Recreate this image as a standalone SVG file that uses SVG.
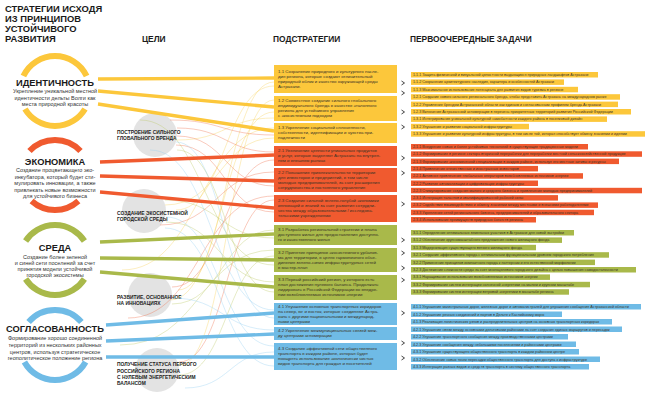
<svg xmlns="http://www.w3.org/2000/svg" width="650" height="398" viewBox="0 0 650 398">
<style>
text{font-family:"Liberation Sans",Arial,sans-serif}
.ttl{font-weight:bold;font-size:9.4px;fill:#1a1a1a}
.h{font-weight:bold;font-size:8.4px;fill:#1a1a1a}
.ring{fill:none;stroke-width:6}
.rw{font-weight:bold;font-size:9.3px;text-anchor:middle;fill:#1a1a1a}
.rd{font-size:5.5px;text-anchor:middle;fill:#333}
.gc{fill:#e3e3e3}
.gl{font-weight:bold;font-size:4.9px;fill:#222}
.st{font-size:4.4px;fill:#3a3325}
.tt{font-size:3.7px;fill:#3a3325}
.thick{fill:none;stroke-width:3.4}
.thin{fill:none;stroke-width:0.6;opacity:0.6}
.chev{fill:none;stroke:#333;stroke-width:0.9}
.Y{fill:#fcc73b}.R{fill:#f05a2f}.G{fill:#a9b94a}.B{fill:#6fbbe6}
.sY{stroke:#fcc73b}.sR{stroke:#f05a2f}.sG{stroke:#a9b94a}.sB{stroke:#6fbbe6}
.tY{stroke:#f7cf52}.tR{stroke:#ef6a45}.tG{stroke:#b9c65e}.tB{stroke:#8fcdf0}
</style>
<rect width="650" height="398" fill="#fff"/>
<g id="title">
<text class="ttl" x="5" y="12">СТРАТЕГИИ ИСХОДЯ</text>
<text class="ttl" x="5" y="22">ИЗ ПРИНЦИПОВ</text>
<text class="ttl" x="5" y="32">УСТОЙЧИВОГО</text>
<text class="ttl" x="5" y="42">РАЗВИТИЯ</text>
</g>
<g id="headers">
<text class="h" x="142" y="42">ЦЕЛИ</text>
<text class="h" x="273" y="42">ПОДСТРАТЕГИИ</text>
<text class="h" x="410" y="42">ПЕРВООЧЕРЕДНЫЕ ЗАДАЧИ</text>
</g>
<g id="ring-identity">
<path class="ring sY" d="M23.4 76 A35 35 0 0 1 86.6 76"/>
<path class="ring sY" d="M25 109 A35 35 0 0 0 85 109"/>
<text class="rw" x="55" y="86">ИДЕНТИЧНОСТЬ</text>
<text class="rd" x="55" y="93">Укрепление уникальной местной</text>
<text class="rd" x="55" y="100">идентичности дельты Волги как</text>
<text class="rd" x="55" y="106">места природной красоты</text>
</g>
<g id="ring-economy">
<path class="ring sR" d="M29.5 151 A35 35 0 0 1 80.5 151"/>
<path class="ring sR" d="M31.6 201 A35 35 0 0 0 78.4 201"/>
<text class="rw" x="55" y="165">ЭКОНОМИКА</text>
<text class="rd" x="55" y="172">Создание процветающего эко-</text>
<text class="rd" x="55" y="178.5">инкубатора, который будет сти-</text>
<text class="rd" x="55" y="185">мулировать инновации, а также</text>
<text class="rd" x="55" y="191.5">привлекать новые возможности</text>
<text class="rd" x="55" y="198">для устойчивого бизнеса</text>
</g>
<g id="ring-environment">
<path class="ring sG" d="M25.6 241 A35 35 0 0 1 84.4 241"/>
<path class="ring sG" d="M25.6 279 A35 35 0 0 0 84.4 279"/>
<text class="rw" x="55" y="251">СРЕДА</text>
<text class="rd" x="55" y="259">Создание более зеленой</text>
<text class="rd" x="55" y="265">и синей сети поселений за счет</text>
<text class="rd" x="55" y="271">принятия модели устойчивой</text>
<text class="rd" x="55" y="277">городской экосистемы</text>
</g>
<g id="ring-coherence">
<path class="ring sB" d="M28.6 322 A35 35 0 0 1 81.4 322"/>
<path class="ring sB" d="M24.4 362 A35 35 0 0 0 85.6 362"/>
<text class="rw" x="55" y="332">СОГЛАСОВАННОСТЬ</text>
<text class="rd" x="55" y="340">Формирование хорошо соединенной</text>
<text class="rd" x="55" y="347">территорий из нескольких районных</text>
<text class="rd" x="55" y="354">центров, используя стратегическое</text>
<text class="rd" x="55" y="360">геополитическое положение региона</text>
</g>
<g id="goal-brand">
<circle class="gc" cx="155" cy="135" r="22"/>
<text class="gl" x="117" y="134">ПОСТРОЕНИЕ СИЛЬНОГО</text>
<text class="gl" x="117" y="140">ГЛОБАЛЬНОГО БРЕНДА</text>
</g>
<g id="goal-ecosystem">
<circle class="gc" cx="144" cy="211" r="22"/>
<text class="gl" x="117" y="215">СОЗДАНИЕ ЭКОСИСТЕМНОЙ</text>
<text class="gl" x="117" y="221">ГОРОДСКОЙ СРЕДЫ</text>
</g>
<g id="goal-innovation">
<circle class="gc" cx="150" cy="295" r="22"/>
<text class="gl" x="117" y="299">РАЗВИТИЕ, ОСНОВАННОЕ</text>
<text class="gl" x="117" y="305">НА ИННОВАЦИЯХ</text>
</g>
<g id="goal-zero">
<circle class="gc" cx="157" cy="370" r="22"/>
<text class="gl" x="117" y="366">ПОЛУЧЕНИЕ СТАТУСА ПЕРВОГО</text>
<text class="gl" x="117" y="372.5">РОССИЙСКОГО РЕГИОНА</text>
<text class="gl" x="117" y="379">С НУЛЕВЫМ ЭНЕРГЕТИЧЕСКИМ</text>
<text class="gl" x="117" y="385">БАЛАНСОМ</text>
</g>
<g id="connectors">
<path class="thin tY" d="M178 290 C226 290 226 82 274 82"/>
<path class="thin tY" d="M176 210 C225 210 225 86 274 86"/>
<path class="thin tY" d="M180 365 C227 365 227 100 274 100"/>
<path class="thin tY" d="M170 300 C222 300 222 112 274 112"/>
<path class="thin tY" d="M165 205 C220 205 220 138 274 138"/>
<path class="thin tY" d="M177 140 C226 140 226 118 274 118"/>
<path class="thin tY" d="M122 270 C200 270 200 128 274 128"/>
<path class="thin tR" d="M177 128 C226 128 226 152 274 152"/>
<path class="thin tR" d="M177 136 C226 136 226 186 274 186"/>
<path class="thin tR" d="M176 145 C225 145 225 212 274 212"/>
<path class="thin tR" d="M172 287 C223 287 223 160 274 160"/>
<path class="thin tR" d="M179 362 C227 362 227 200 274 200"/>
<path class="thin tR" d="M160 225 C217 225 217 172 274 172"/>
<path class="thin tR" d="M128 318 C200 318 200 196 274 196"/>
<path class="thin tR" d="M170 120 C222 120 222 135 274 135"/>
<path class="thin tG" d="M165 200 C220 200 220 238 274 238"/>
<path class="thin tG" d="M177 150 C226 150 226 292 274 292"/>
<path class="thin tG" d="M179 375 C227 375 227 256 274 256"/>
<path class="thin tG" d="M172 304 C223 304 223 230 274 230"/>
<path class="thin tG" d="M166 222 C220 222 220 282 274 282"/>
<path class="thin tG" d="M140 120 C205 120 205 265 274 265"/>
<path class="thin tG" d="M120 345 C200 345 200 250 274 250"/>
<path class="thin tB" d="M176 142 C225 142 225 318 274 318"/>
<path class="thin tB" d="M166 217 C220 217 220 346 274 346"/>
<path class="thin tB" d="M172 298 C223 298 223 330 274 330"/>
<path class="thin tB" d="M165 228 C220 228 220 366 274 366"/>
<path class="thin tB" d="M185 388 C230 388 230 352 274 352"/>
<path class="thin tB" d="M150 150 C212 150 212 310 274 310"/>
<path class="thick sY" d="M98 79 L274 78"/>
<path class="thick sY" d="M98 91 L274 107"/>
<path class="thick sY" d="M98 104 L274 131"/>
<path class="thick sR" d="M100 162 L274 155"/>
<path class="thick sR" d="M100 176 L274 181"/>
<path class="thick sR" d="M100 192 L274 208"/>
<path class="thick sG" d="M100 242 L274 234"/>
<path class="thick sG" d="M100 258 L274 260"/>
<path class="thick sG" d="M100 272 L274 287"/>
<path class="thick sB" d="M106 325 L274 313"/>
<path class="thick sB" d="M106 341 L274 334"/>
<path class="thick sB" d="M106 357 L274 357"/>
<path class="chev" d="M401.5 81 L404.5 83 L401.5 85 M401.5 91 L404.5 93 L401.5 95 M401.5 110 L404.5 112 L401.5 114 M401.5 125 L404.5 127 L401.5 129 M401.5 156 L404.5 158 L401.5 160 M401.5 171 L404.5 173 L401.5 175 M401.5 202 L404.5 204 L401.5 206 M401.5 238 L404.5 240 L401.5 242 M401.5 251 L404.5 253 L401.5 255 M401.5 266 L404.5 268 L401.5 270 M401.5 278 L404.5 280 L401.5 282 M401.5 311 L404.5 313 L401.5 315 M401.5 341 L404.5 343 L401.5 345 M401.5 356 L404.5 358 L401.5 360"/>
</g>
<g id="sub-1-1"><rect class="Y" x="274" y="65" width="123" height="28"/><text class="st" x="278" y="72.8">1.1 Сохранение природного и культурного насле-<tspan x="278" dy="5">дия региона, которые создают отличительный</tspan><tspan x="278" dy="5">природный облик и качество окружающей среды</tspan><tspan x="278" dy="5">Астрахани.</tspan></text></g>
<g id="sub-1-2"><rect class="Y" x="274" y="96" width="123" height="25"/><text class="st" x="278" y="102.3">1.2 Совместное создание сильного глобального<tspan x="278" dy="5">индивидуального бренда в качестве эталонного</tspan><tspan x="278" dy="5">региона для устойчивого управления</tspan><tspan x="278" dy="5">с экосистемным подходом</tspan></text></g>
<g id="sub-1-3"><rect class="Y" x="274" y="123" width="123" height="20"/><text class="st" x="278" y="129.3">1.3 Укрепление социальной сплоченности,<tspan x="278" dy="5">собственности, идентификации и чувства при-</tspan><tspan x="278" dy="5">надлежности</tspan></text></g>
<g id="sub-2-1"><rect class="R" x="274" y="146" width="123" height="20"/><text class="st" x="278" y="152.3">2.1 Увеличение ценности уникальных продуктов<tspan x="278" dy="5">и услуг, которые выделяют Астрахань на внутрен-</tspan><tspan x="278" dy="5">нем и внешнем рынках</tspan></text></g>
<g id="sub-2-2"><rect class="R" x="274" y="168" width="123" height="24"/><text class="st" x="278" y="173.8">2.2 Повышение привлекательности территории<tspan x="278" dy="5">для инвесторов и предприятий, в том числе</tspan><tspan x="278" dy="5">молодых предпринимателей, за счет расширения</tspan><tspan x="278" dy="5">сотрудничества и постоянного управления</tspan></text></g>
<g id="sub-2-3"><rect class="R" x="274" y="195" width="123" height="27"/><text class="st" x="278" y="202.3">2.3 Создание сильной зелено-голубой экономики<tspan x="278" dy="5">инноваций и знаний за счет развития сотрудни-</tspan><tspan x="278" dy="5">чества между образовательными / исследова-</tspan><tspan x="278" dy="5">тельскими учреждениями</tspan></text></g>
<g id="sub-3-1"><rect class="G" x="274" y="225" width="123" height="20"/><text class="st" x="278" y="231.3">3.1 Разработка региональной стратегии и плана<tspan x="278" dy="5">доступного жилья для предоставления доступно-</tspan><tspan x="278" dy="5">го и качественного жилья</tspan></text></g>
<g id="sub-3-2"><rect class="G" x="274" y="248" width="123" height="24"/><text class="st" x="278" y="253.8">3.2 Принятие принципов экосистемного урбаниз-<tspan x="278" dy="5">ма для территории, в целях гармоничного объе-</tspan><tspan x="278" dy="5">динения зелено-синих инфраструктурных сетей</tspan><tspan x="278" dy="5">в мастер-план</tspan></text></g>
<g id="sub-3-3"><rect class="G" x="274" y="275" width="123" height="25"/><text class="st" x="278" y="281.3">3.3 Первый российский регион, у которого есть<tspan x="278" dy="5">план достижения нулевого баланса. Продолжать</tspan><tspan x="278" dy="5">лидировать в Российской Федерации во внедре-</tspan><tspan x="278" dy="5">нии возобновляемых источников энергии</tspan></text></g>
<g id="sub-4-1"><rect class="B" x="274" y="303" width="123" height="22"/><text class="st" x="278" y="307.8">4.1 Улучшение основных транспортных коридоров<tspan x="278" dy="5">на север, юг и восток, которые соединяют Астра-</tspan><tspan x="278" dy="5">хань с другими национальными и международ-</tspan><tspan x="278" dy="5">ными центрами</tspan></text></g>
<g id="sub-4-2"><rect class="B" x="274" y="327" width="123" height="13"/><text class="st" x="278" y="332.3">4.2 Укрепление межмуниципальных связей меж-<tspan x="278" dy="5">ду центрами агломерации</tspan></text></g>
<g id="sub-4-3"><rect class="B" x="274" y="343" width="123" height="27"/><text class="st" x="278" y="350.3">4.3 Создание эффективной сети общественного<tspan x="278" dy="5">транспорта в каждом районе, которая будет</tspan><tspan x="278" dy="5">поощрять использование экологически чистых</tspan><tspan x="278" dy="5">видов транспорта для граждан и посетителей</tspan></text></g>
<g id="tasks-1">
<rect class="Y" x="411" y="72" width="187" height="5.5"/><text class="tt" x="413" y="76">1.1.1 Защита физической и визуальной целостности выдающихся природных ландшафтов Астрахани</text>
<rect class="Y" x="411" y="79.4" width="153" height="5.5"/><text class="tt" x="413" y="83.4">1.1.2 Сохранение архитектурного наследия, характера и особенностей Астрахани</text>
<rect class="Y" x="411" y="86.8" width="167" height="5.5"/><text class="tt" x="413" y="90.8">1.1.3 Максимальное использование потенциала для развития видов туризма в регионе</text>
<rect class="Y" x="411" y="94.2" width="209" height="5.5"/><text class="tt" x="413" y="98.2">1.2.1 Создание нового сильного регионального бренда, чтобы представить Астрахань на международном рынке</text>
<rect class="Y" x="411" y="101.6" width="207" height="5.5"/><text class="tt" x="413" y="105.6">1.2.2 Управление брендом Астраханской области как единым и согласованным профилем бренда Астрахани</text>
<rect class="Y" x="411" y="109" width="220" height="5.5"/><text class="tt" x="413" y="113">1.2.3 Включение Астраханской агломерации в перечень приоритетных территорий развития Российской Федерации</text>
<rect class="Y" x="411" y="116.4" width="196" height="5.5"/><text class="tt" x="413" y="120.4">1.3.1 Интегрирование уникальной культурной самобытности каждого района в поселковый дизайн</text>
<rect class="Y" x="411" y="123.8" width="118" height="5.5"/><text class="tt" x="413" y="127.8">1.3.2 Улучшение и развитие социальной инфраструктуры</text>
<rect class="Y" x="411" y="131.2" width="234" height="5.5"/><text class="tt" x="413" y="135.2">1.3.3 Улучшение и развитие культурной инфраструктуры, в том числе той, которая способствует обмену знаниями и идеями</text>
</g>
<g id="tasks-2">
<rect class="R" x="411" y="144" width="177" height="5.5"/><text class="tt" x="413" y="148">2.1.1 Внедрение новых и более устойчивых технологий в существующие традиционные модели</text>
<rect class="R" x="411" y="151.3" width="231" height="5.5"/><text class="tt" x="413" y="155.3">2.1.2 Формирование в регионе сектора вторичной переработки для переработки местной сельскохозяйственной продукции</text>
<rect class="R" x="411" y="158.6" width="208" height="5.5"/><text class="tt" x="413" y="162.6">2.1.3 Формирование экономической специализации в каждом районе, используя его местные активы и ресурсы</text>
<rect class="R" x="411" y="165.9" width="127" height="5.5"/><text class="tt" x="413" y="169.9">2.1.4 Привлечение отечественных и иностранных инвесторов</text>
<rect class="R" x="411" y="173.2" width="172" height="5.5"/><text class="tt" x="413" y="177.2">2.2.1 Активное привлечение глобальных операторов возобновляемых источников энергии</text>
<rect class="R" x="411" y="180.5" width="127" height="5.5"/><text class="tt" x="413" y="184.5">2.2.2 Развитие автоматизации и цифровизации инфраструктуры</text>
<rect class="R" x="411" y="187.8" width="231" height="5.5"/><text class="tt" x="413" y="191.8">2.2.3 Стимулирование создания малого и среднего бизнеса и привлечение молодых предпринимателей</text>
<rect class="R" x="411" y="195.1" width="147" height="5.5"/><text class="tt" x="413" y="199.1">2.3.1 Интеграция талантов и квалифицированной рабочей силы</text>
<rect class="R" x="411" y="202.4" width="187" height="5.5"/><text class="tt" x="413" y="206.4">2.3.2 Содействие взаимодействию и обмену знаниями между местными и внешними работодателями</text>
<rect class="R" x="411" y="209.7" width="183" height="5.5"/><text class="tt" x="413" y="213.7">2.3.3 Укрепление сетей регионального бизнеса, предпринимателей и образовательного сектора</text>
<rect class="R" x="411" y="217" width="125" height="5.5"/><text class="tt" x="413" y="221">2.3.4 Использование преимуществ природных богатств региона</text>
</g>
<g id="tasks-3">
<rect class="G" x="411" y="230" width="163" height="5.5"/><text class="tt" x="413" y="234">3.1.1 Определение оптимальных земельных участков в Астрахани для новой застройки</text>
<rect class="G" x="411" y="237.4" width="151" height="5.5"/><text class="tt" x="413" y="241.4">3.1.2 Обеспечение крупномасштабного предложения нового жилищного фонда</text>
<rect class="G" x="411" y="244.8" width="125" height="5.5"/><text class="tt" x="413" y="248.8">3.1.3 Модернизация существующего ветхого жилищного фонда</text>
<rect class="G" x="411" y="252.2" width="198" height="5.5"/><text class="tt" x="413" y="256.2">3.2.1 Создание эффективного города с оптимальным функциональным уровнем городского потребления</text>
<rect class="G" x="411" y="259.6" width="184" height="5.5"/><text class="tt" x="413" y="263.6">3.2.2 Применение принципов компактного города к паттернам и его естественной морфологии</text>
<rect class="G" x="411" y="267" width="225" height="5.5"/><text class="tt" x="413" y="271">3.2.3 Достижение сложности среды за счет многоцелевого городского дизайна с целью повышения самодостаточности</text>
<rect class="G" x="411" y="274.4" width="139" height="5.5"/><text class="tt" x="413" y="278.4">3.3.1 Наращивание использования возобновляемых источников энергии</text>
<rect class="G" x="411" y="281.8" width="179" height="5.5"/><text class="tt" x="413" y="285.8">3.3.2 Формирование систем интеграции солнечной энергетики на малом и крупном масштабе</text>
<rect class="G" x="411" y="289.2" width="158" height="5.5"/><text class="tt" x="413" y="293.2">3.3.3 Формирование систем интеграции ветровой энергетики в масштабе региона</text>
</g>
<g id="tasks-4">
<rect class="B" x="411" y="304" width="230" height="5.5"/><text class="tt" x="413" y="308">4.1.1 Улучшение магистральных дорог, железных дорог и автомагистралей для улучшения сообщения Астраханской области</text>
<rect class="B" x="411" y="311.5" width="151" height="5.5"/><text class="tt" x="413" y="315.5">4.1.2 Улучшение речных соединений и портов в Дельте к Каспийскому морю</text>
<rect class="B" x="411" y="319" width="201" height="5.5"/><text class="tt" x="413" y="323">4.1.3 Реализация логистических узлов и распределительных центров на основных транспортных коридорах</text>
<rect class="B" x="411" y="326.5" width="211" height="5.5"/><text class="tt" x="413" y="330.5">4.2.1 Улучшение связи между основными дельтовыми районами за счет создания единых маршрутов и пересадок</text>
<rect class="B" x="411" y="334" width="157" height="5.5"/><text class="tt" x="413" y="338">4.2.2 Улучшение транспортного сообщения между производственными центрами</text>
<rect class="B" x="411" y="341.5" width="165" height="5.5"/><text class="tt" x="413" y="345.5">4.2.3 Улучшение сообщения между небольшими поселениями и районными центрами</text>
<rect class="B" x="411" y="349" width="168" height="5.5"/><text class="tt" x="413" y="353">4.3.1 Улучшение существующего общественного транспорта в каждом районном центре</text>
<rect class="B" x="411" y="356.5" width="189" height="5.5"/><text class="tt" x="413" y="360.5">4.3.2 Обеспечение новых точек пересадки общественного транспорта для доступа к инфраструктуре</text>
<rect class="B" x="411" y="364" width="178" height="5.5"/><text class="tt" x="413" y="368">4.3.3 Интеграция разных видов и средств транспорта в систему общественного транспорта</text>
</g>
</svg>
